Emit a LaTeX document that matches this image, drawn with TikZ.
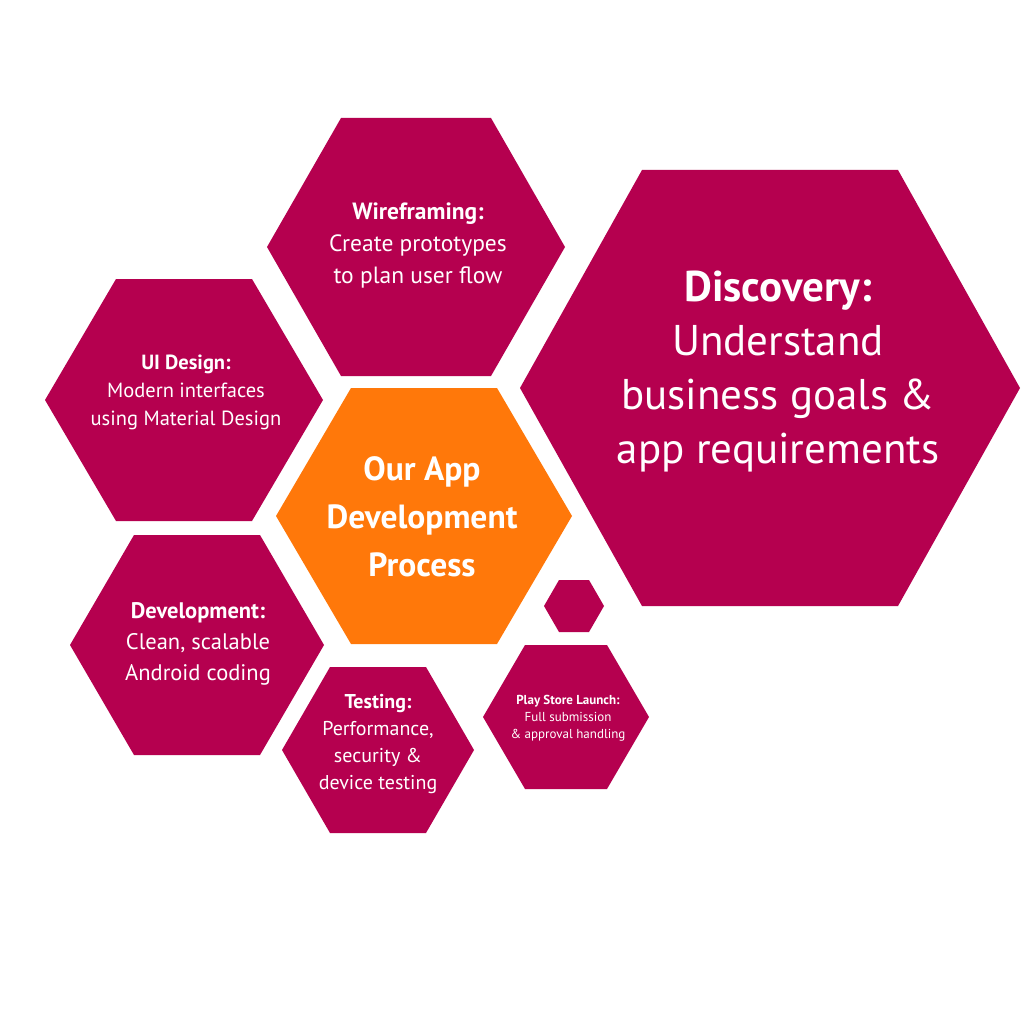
\documentclass[tikz,border=0pt]{standalone}
\usepackage{fontspec}
\setmainfont{PT Sans}
\definecolor{mag}{HTML}{B5004F}
\definecolor{org}{HTML}{FF780A}
\newcommand{\hexa}[6]{%
 \fill[#6] (#1-#4,#2-#5) -- (#1+#4,#2-#5) -- (#1+#3,#2) -- (#1+#4,#2+#5) -- (#1-#4,#2+#5) -- (#1-#3,#2) -- cycle;}
\tikzset{lbl/.style={text=white,align=center,inner sep=0pt}}
\begin{document}
\begin{tikzpicture}[x=1pt,y=-1pt]
\useasboundingbox[fill=white] (0,0) rectangle (1024,1024);
\hexa{416}{247}{149}{75}{129}{mag}
\hexa{770}{388}{250}{128}{218}{mag}
\hexa{184}{400}{139}{68}{121}{mag}
\hexa{424}{516}{148}{73}{128}{org}
\hexa{197}{645}{127}{63}{110}{mag}
\hexa{378}{750}{96}{48}{83}{mag}
\hexa{566}{717}{83}{41}{72}{mag}
\hexa{574}{606}{30}{15}{26}{mag}
\node[lbl,font=\fontsize{23.5}{32}\selectfont] (wf) at (418,245) {\textbf{Wireframing:}\\Create prototypes\\to plan user flow};
\node[lbl,font=\fontsize{43}{54}\selectfont] (disc) at (778,372) {\textbf{Discovery:}\\Understand\\business goals \&\\app requirements};
\node[lbl,font=\fontsize{20.5}{28}\selectfont] (ui) at (186,392) {\textbf{UI Design:}\\Modern interfaces\\using Material Design};
\node[lbl,font=\bfseries\fontsize{33.5}{48}\selectfont] (ctr) at (422,517) {Our App\\Development\\Process};
\node[lbl,font=\fontsize{22.5}{31}\selectfont] (dev) at (198,644) {\textbf{Development:}\\Clean, scalable\\Android coding};
\node[lbl,font=\fontsize{20}{27}\selectfont] (test) at (378,744) {\textbf{Testing:}\\Performance,\\security \&\\device testing};
\node[lbl,font=\fontsize{13}{17}\selectfont] (ps) at (568,718) {\textbf{Play Store Launch:}\\Full submission\\\& approval handling};
\end{tikzpicture}
\end{document}
